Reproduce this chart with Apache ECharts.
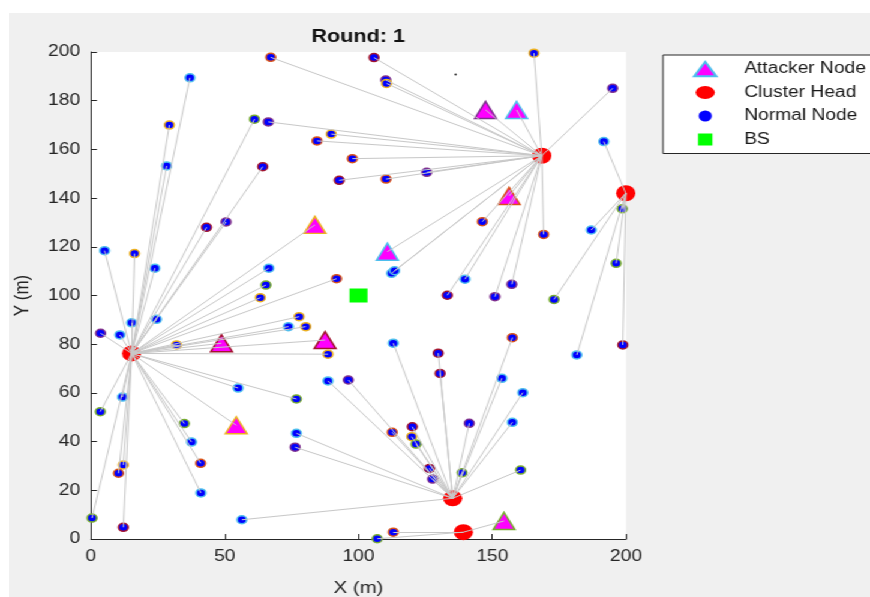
<!DOCTYPE html>
<html>
<head>
<meta charset="utf-8">
<title>Round: 1</title>
<script src="https://cdn.jsdelivr.net/npm/echarts@6/dist/echarts.min.js"></script>
<style>
  html, body { margin: 0; padding: 0; background: #fff; width: 870px; height: 597px; overflow: hidden; }
  #chart {
    position: absolute; left: 9px; top: 13px;
    width: 718px; height: 584px;
    background: #f0f0f0;
    transform: scaleX(1.2); transform-origin: 0 0;
  }
</style>
</head>
<body>
<div id="chart"></div>
<script>
// ---- network state for this round ----
const xTicks = [0, 50, 100, 150, 200];
const yTicks = [0, 20, 40, 60, 80, 100, 120, 140, 160, 180, 200];

// cluster heads
const headX = [15.2, 168.5, 135.2, 139.2, 199.9];
const headY = [76.2, 157.4, 16.7, 2.8, 142.0];

// base station
const bsX = [100];
const bsY = [100];

// edge colours used for node outlines
const edgePalette = ['#EDB120', '#D95319', '#A2142F', '#7E2F8E', '#77AC30', '#4DBEEE'];

// attacker nodes: position, outline colour index, cluster head index
const attX    = [83.7, 147.5, 159.1, 156.3, 110.8, 48.8, 87.5, 54.3, 154.4];
const attY    = [129.0, 176.2, 176.2, 140.9, 118.0, 80.4, 81.7, 46.7, 7.4];
const attEdge = [0, 3, 5, 1, 5, 2, 2, 0, 4];
const attHead = [0, 1, 1, 1, 1, 0, 0, 0, 3];

// normal nodes: position, outline colour index, cluster head index
const normX = [67.2, 37.0, 29.3, 28.3, 61.1, 66.3, 89.8, 84.5, 97.7, 92.8,
               64.2, 43.2, 50.5, 5.1, 16.3, 23.9, 66.5, 65.4, 63.3, 91.8,
               105.8, 110.2, 110.5, 165.6, 195.0, 191.7, 198.6, 187.0, 196.3, 125.5,
               110.3, 146.3, 169.2, 112.4, 139.8, 157.3, 133.2, 151.0, 173.1, 77.8,
               80.3, 73.8, 88.6, 24.5, 15.2, 3.6, 10.8, 32.0, 55.0, 76.8,
               88.6, 96.2, 11.8, 3.5, 34.9, 37.6, 76.8, 76.3, 41.0, 12.1,
               10.3, 41.1, 0.4, 12.1, 56.4, 113.0, 157.5, 129.8, 130.5, 181.6,
               198.8, 153.6, 161.4, 157.5, 141.4, 112.6, 120.1, 119.9, 121.5, 126.5,
               127.7, 138.7, 160.6, 113.0, 107.0, 113.5];
const normY = [197.8, 189.4, 170.0, 153.2, 172.4, 171.3, 166.3, 163.5, 156.2, 147.3,
               152.9, 128.0, 130.2, 118.4, 117.2, 111.2, 111.2, 104.3, 99.1, 106.9,
               197.7, 188.5, 187.1, 199.5, 185.1, 163.2, 135.6, 126.9, 113.2, 150.6,
               147.8, 130.3, 125.1, 109.1, 106.7, 104.6, 100.1, 99.5, 98.4, 91.3,
               87.2, 87.2, 75.9, 90.2, 88.8, 84.5, 83.8, 79.7, 62.0, 57.5,
               64.9, 65.3, 58.3, 52.3, 47.4, 39.8, 43.4, 37.7, 31.1, 30.4,
               27.0, 18.9, 8.6, 4.8, 7.9, 80.4, 82.7, 76.3, 68.0, 75.6,
               79.7, 66.0, 60.1, 47.9, 47.5, 43.8, 46.1, 42.0, 39.0, 29.0,
               24.6, 27.2, 28.3, 2.8, 0.1, 110.2];
const normEdge = [1, 5, 0, 5, 4, 3, 0, 1, 1, 2,
                  2, 2, 3, 5, 0, 5, 5, 4, 0, 1,
                  2, 3, 0, 0, 3, 5, 4, 5, 4, 3,
                  1, 1, 1, 5, 5, 3, 2, 3, 4, 0,
                  0, 5, 0, 5, 5, 3, 5, 0, 5, 4,
                  5, 3, 5, 4, 4, 5, 5, 3, 1, 0,
                  1, 5, 4, 2, 5, 5, 1, 2, 2, 5,
                  2, 5, 5, 5, 3, 1, 2, 0, 4, 2,
                  3, 4, 4, 1, 4, 5];
const normHead = [1, 0, 0, 0, 0, 1, 1, 1, 1, 1,
                  0, 0, 0, 0, 0, 0, 0, 0, 0, 0,
                  1, 1, 1, 1, 1, 4, 4, 4, 4, 1,
                  1, 1, 1, 1, 1, 1, 1, 1, 4, 0,
                  0, 0, 0, 0, 0, 0, 0, 0, 0, 0,
                  2, 2, 0, 0, 0, 0, 2, 2, 0, 0,
                  0, 0, 0, 0, 2, 2, 2, 2, 2, 4,
                  4, 2, 2, 2, 2, 2, 2, 2, 2, 2,
                  2, 2, 2, 3, 3, 1];

// stray plotted point
const dotX = [136.3];
const dotY = [190.8];

// ---- build series data ----
const FONT = '"Liberation Sans", Arial, Helvetica, sans-serif';
const AXIS_COLOR = '#262626';

const attData = attX.map((x, i) => ({
  value: [x, attY[i]],
  itemStyle: { borderColor: edgePalette[attEdge[i]] }
}));
const normData = normX.map((x, i) => ({
  value: [x, normY[i]],
  itemStyle: { borderColor: edgePalette[normEdge[i]] }
}));
const headData = headX.map((x, i) => [x, headY[i]]);
const bsData = bsX.map((x, i) => [x, bsY[i]]);
const dotData = dotX.map((x, i) => [x, dotY[i]]);

// member -> cluster head links
const links = [];
normX.forEach((x, i) => {
  const h = normHead[i];
  links.push({ coords: [[x, normY[i]], [headX[h], headY[h]]] });
});
attX.forEach((x, i) => {
  const h = attHead[i];
  links.push({ coords: [[x, attY[i]], [headX[h], headY[h]]] });
});

// legend icons (20x16 frame so each marker keeps its own size)
const FRAME = 'M0,0M20,16';
const iconAttacker = 'path://' + FRAME + 'M0.8,15.2L10,0.8L19.2,15.2Z';
const iconHead = 'path://' + FRAME + 'M2,8a8,6.5 0 1,1 16,0a8,6.5 0 1,1 -16,0Z';
const iconNormal = 'path://' + FRAME + 'M5.5,8a4.5,4.5 0 1,1 9,0a4.5,4.5 0 1,1 -9,0Z';
const iconBS = 'path://' + FRAME + 'M4,2L16,2L16,14L4,14Z';

const chart = echarts.init(document.getElementById('chart'), null, { renderer: 'canvas' });

chart.setOption({
  animation: false,
  backgroundColor: '#f0f0f0',
  title: {
    text: 'Round: 1',
    left: 291,
    top: 15,
    padding: 0,
    textAlign: 'center',
    textStyle: { fontFamily: FONT, fontSize: 18, fontWeight: 'bold', color: '#111' }
  },
  legend: {
    orient: 'vertical',
    left: 545,
    top: 42,
    padding: [5, 14, 6, 24.2],
    itemWidth: 20,
    itemHeight: 16,
    itemGap: 6.5,
    backgroundColor: '#ffffff',
    borderColor: AXIS_COLOR,
    borderWidth: 1,
    borderRadius: 0,
    selectedMode: false,
    textStyle: {
      fontFamily: FONT, fontSize: 16, color: '#1a1a1a',
      lineHeight: 16, padding: [0, 0, 0, 17.5]
    },
    data: [
      { name: 'Attacker Node', icon: iconAttacker },
      { name: 'Cluster Head', icon: iconHead },
      { name: 'Normal Node', icon: iconNormal },
      { name: 'BS', icon: iconBS }
    ]
  },
  grid: {
    left: 68.3, right: 203.8, top: 39, bottom: 58,
    outerBoundsMode: 'none',
    containLabel: false,
    show: true, backgroundColor: '#ffffff', borderWidth: 0
  },
  xAxis: {
    type: 'value',
    min: xTicks[0], max: xTicks[xTicks.length - 1],
    interval: xTicks[1] - xTicks[0],
    name: 'X (m)',
    nameLocation: 'middle',
    nameGap: 41,
    nameTextStyle: { fontFamily: FONT, fontSize: 17, color: AXIS_COLOR },
    axisLine: { show: true, onZero: false, lineStyle: { color: AXIS_COLOR, width: 1 } },
    axisTick: { show: true, inside: true, length: 5, lineStyle: { color: AXIS_COLOR } },
    axisLabel: { fontFamily: FONT, fontSize: 16, color: AXIS_COLOR, margin: 10, showMinLabel: true, showMaxLabel: true },
    splitLine: { show: false }
  },
  yAxis: {
    type: 'value',
    min: yTicks[0], max: yTicks[yTicks.length - 1],
    interval: yTicks[1] - yTicks[0],
    name: 'Y (m)',
    nameLocation: 'middle',
    nameGap: 48,
    nameTextStyle: { fontFamily: FONT, fontSize: 17, color: AXIS_COLOR },
    axisLine: { show: true, onZero: false, lineStyle: { color: AXIS_COLOR, width: 1 } },
    axisTick: { show: true, inside: true, length: 5, lineStyle: { color: AXIS_COLOR } },
    axisLabel: { fontFamily: FONT, fontSize: 16, color: AXIS_COLOR, margin: 9, showMinLabel: true, showMaxLabel: true },
    splitLine: { show: false }
  },
  series: [
    {
      name: 'Attacker Node',
      type: 'scatter',
      symbol: 'triangle',
      symbolSize: [18, 17],
      itemStyle: { color: '#ff00ff', borderColor: '#4DBEEE', borderWidth: 1.5, opacity: 1 },
      data: attData,
      z: 2
    },
    {
      name: 'Cluster Head',
      type: 'scatter',
      symbol: 'circle',
      symbolSize: 16,
      itemStyle: { color: '#ff0000', borderWidth: 0, opacity: 1 },
      data: headData,
      z: 2
    },
    {
      name: 'Normal Node',
      type: 'scatter',
      symbol: 'circle',
      symbolSize: 8,
      itemStyle: { color: '#0000ff', borderColor: '#0000ff', borderWidth: 1.5, opacity: 1 },
      data: normData,
      z: 2
    },
    {
      name: 'BS',
      type: 'scatter',
      symbol: 'rect',
      symbolSize: [15, 14],
      itemStyle: { color: '#00ff00', borderWidth: 0, opacity: 1 },
      data: bsData,
      z: 2
    },
    {
      name: '',
      type: 'scatter',
      symbol: 'circle',
      symbolSize: 2,
      itemStyle: { color: '#000000' },
      data: dotData,
      silent: true,
      z: 2
    },
    {
      type: 'lines',
      coordinateSystem: 'cartesian2d',
      silent: true,
      lineStyle: { color: '#c8c8c8', width: 1, opacity: 1 },
      data: links,
      z: 4
    }
  ]
});
</script>
</body>
</html>
